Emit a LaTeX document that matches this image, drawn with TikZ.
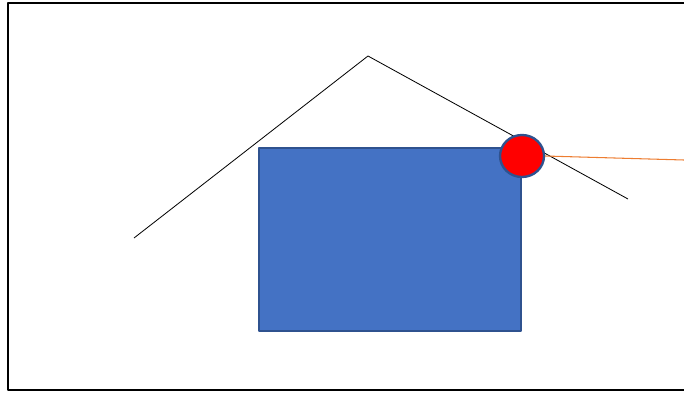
\documentclass[tikz,border=0pt]{standalone}
\usetikzlibrary{shapes.geometric}
\definecolor{boxblue}{HTML}{4472C4}
\definecolor{edgeblue}{HTML}{2F528F}
\definecolor{rayorange}{HTML}{ED7D31}
\begin{document}
\begin{tikzpicture}[
        x=0.03cm, y=-0.03cm,
        line join=round,
        % styles
        frame/.style={line width=1.8pt, black},
        roof/.style={line width=0.7pt, black},
        house/.style={draw=edgeblue, fill=boxblue, line width=2pt},
        ball/.style={ellipse, draw=edgeblue, fill=red, line width=2pt,
                     minimum width=44*0.03cm, minimum height=42*0.03cm, inner sep=0pt},
        ray/.style={rayorange, line width=0.9pt},
    ]
    \useasboundingbox (0,0) rectangle (684,393);

    % frame (right side runs off the picture)
    \draw[frame] (684,3) -- (8,3) -- (8,390) -- (684,390);

    % roof
    \coordinate (L) at (134,238);
    \coordinate (T) at (368,56);
    \coordinate (R) at (628,199);
    \draw[roof] (L) -- (T) -- (R);

    % box
    \draw[house] (259,148) rectangle (521,331);

    % ball and ray
    \node[ball] (ball) at (522,156) {};
    \coordinate (rayend) at (684,160);
    \draw[ray] (ball.east) -- (rayend);
\end{tikzpicture}
\end{document}
